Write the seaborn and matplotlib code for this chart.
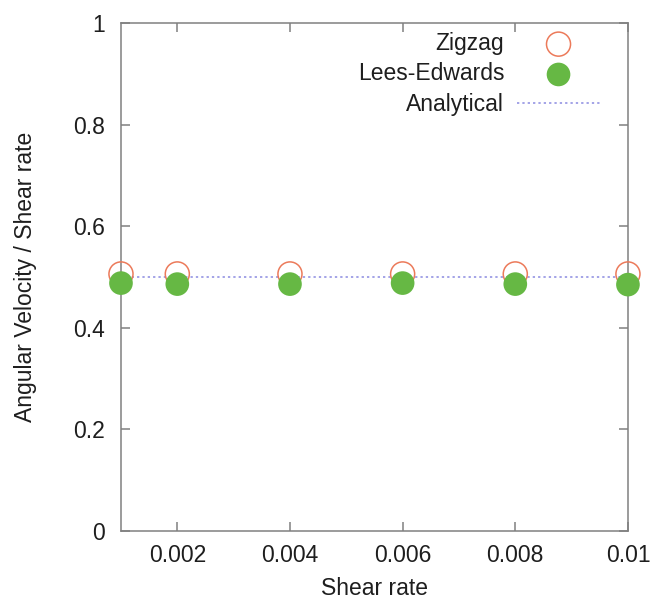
import matplotlib
matplotlib.use("Agg")
import matplotlib.pyplot as plt
import seaborn as sns
import pandas as pd

shear_rate = [0.001, 0.002, 0.004, 0.006, 0.008, 0.01]
zigzag = [0.506, 0.506, 0.506, 0.506, 0.506, 0.506]
lees_edwards = [0.488, 0.486, 0.486, 0.488, 0.486, 0.485]
analytical_x = [0.001, 0.01]
analytical_y = [0.5, 0.5]
xticks = [0.002, 0.004, 0.006, 0.008, 0.01]
xticklabels = ["0.002", "0.004", "0.006", "0.008", "0.01"]
yticks = [0, 0.2, 0.4, 0.6, 0.8, 1.0]
yticklabels = ["0", "0.2", "0.4", "0.6", "0.8", "1"]

sns.set_theme(style="ticks")
plt.rcParams['font.family'] = ['Liberation Sans', 'DejaVu Sans']

FS = 16.5
TXT = "#1e1e1e"
AX = "#808080"

fig = plt.figure(figsize=(6.55, 6.0), dpi=100)
ax = fig.add_axes([0.1847, 0.115, 0.774, 0.8467])

df1 = pd.DataFrame({"x": shear_rate, "y": zigzag})
df2 = pd.DataFrame({"x": shear_rate, "y": lees_edwards})
dfa = pd.DataFrame({"x": analytical_x, "y": analytical_y})

sns.lineplot(data=dfa, x="x", y="y", ax=ax, color="#8a8ae0",
             linestyle=(0, (1.5, 2)), linewidth=1.1, label="Analytical", zorder=2)
sns.scatterplot(data=df1, x="x", y="y", ax=ax, marker="o", s=300,
                facecolor="none", edgecolor="#ec7a5a", linewidth=1.1,
                label="Zigzag", clip_on=False, zorder=3)
sns.scatterplot(data=df2, x="x", y="y", ax=ax, marker="o", s=290,
                color="#66b844", edgecolor="none",
                label="Lees-Edwards", clip_on=False, zorder=4)

ax.set_xlim(0.001, 0.01)
ax.set_ylim(0, 1)
ax.set_xticks(xticks)
ax.set_xticklabels(xticklabels)
ax.set_yticks(yticks)
ax.set_yticklabels(yticklabels)
ax.tick_params(direction="in", top=True, right=True, length=6.5, width=1.1,
               color=AX, labelsize=FS, labelcolor=TXT)
ax.tick_params(axis="x", pad=9.5)
ax.tick_params(axis="y", pad=11.5)
for s in ax.spines.values():
    s.set_color(AX)
    s.set_linewidth(1.1)
ax.set_xlabel("Shear rate", fontsize=FS, color=TXT)
ax.set_ylabel("Angular Velocity / Shear rate", fontsize=FS, color=TXT)
ax.xaxis.set_label_coords(0.5, -0.09)
ax.yaxis.set_label_coords(-0.166, 0.5)

handles, labels = ax.get_legend_handles_labels()
order = [labels.index(n) for n in ["Zigzag", "Lees-Edwards", "Analytical"]]
leg = ax.legend([handles[i] for i in order], [labels[i] for i in order],
                loc="upper right", bbox_to_anchor=(0.9625, 1.0),
                frameon=False, markerfirst=False,
                fontsize=FS, handlelength=3.6, labelspacing=0.32,
                borderaxespad=0.0, handletextpad=0.57)
for t in leg.get_texts():
    t.set_color(TXT)

fig.savefig("out.png", dpi=100)
